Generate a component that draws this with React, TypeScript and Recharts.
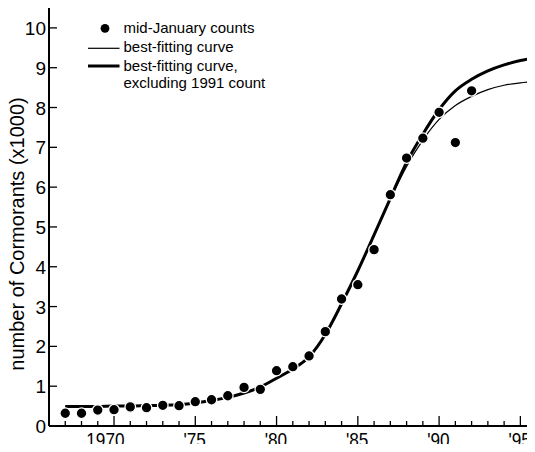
import React from 'react';
import { ComposedChart, Line, Scatter, XAxis, YAxis, ReferenceLine, Legend } from 'recharts';

const countYears = [1967, 1968, 1969, 1970, 1971, 1972, 1973, 1974, 1975, 1976, 1977, 1978, 1979, 1980, 1981, 1982, 1983, 1984, 1985, 1986, 1987, 1988, 1989, 1990, 1991, 1992];
const counts = [0.32, 0.32, 0.4, 0.41, 0.48, 0.46, 0.52, 0.51, 0.61, 0.66, 0.76, 0.97, 0.92, 1.39, 1.49, 1.76, 2.37, 3.19, 3.55, 4.43, 5.81, 6.73, 7.23, 7.88, 7.12, 8.42];

const curveYears = [1967, 1968, 1969, 1970, 1971, 1972, 1973, 1974, 1975, 1976, 1977, 1978, 1979, 1980, 1981, 1982, 1983, 1984, 1985, 1986, 1987, 1988, 1989, 1990, 1991, 1992, 1993, 1994, 1995, 1996];
const fitAll = [0.49, 0.49, 0.49, 0.5, 0.5, 0.51, 0.52, 0.54, 0.58, 0.64, 0.72, 0.83, 0.98, 1.2, 1.43, 1.74, 2.3, 3.07, 3.9, 4.8, 5.7, 6.52, 7.18, 7.7, 8.05, 8.28, 8.45, 8.56, 8.62, 8.66];
const fitExcl1991 = [0.49, 0.49, 0.49, 0.5, 0.5, 0.51, 0.52, 0.54, 0.58, 0.64, 0.72, 0.83, 0.98, 1.2, 1.43, 1.74, 2.3, 3.07, 3.9, 4.8, 5.72, 6.62, 7.33, 7.95, 8.42, 8.71, 8.92, 9.07, 9.18, 9.25];

const yTicks = [0, 1, 2, 3, 4, 5, 6, 7, 8, 9, 10];
const xMinorTicks = [1967, 1968, 1969, 1970, 1971, 1972, 1973, 1974, 1975, 1976, 1977, 1978, 1979, 1980, 1981, 1982, 1983, 1984, 1985, 1986, 1987, 1988, 1989, 1990, 1991, 1992, 1993, 1994, 1995];
const xMajorYears = [1970, 1975, 1980, 1985, 1990, 1995];
const xMajorLabels = ['1970', "'75", "'80", "'85", "'90", "'95"];

const legendLabels = ['mid-January counts', 'best-fitting curve', 'best-fitting curve,', 'excluding 1991 count'];
const yAxisTitle = 'number of Cormorants (x1000)';

const xDomain: [number, number] = [1966, 1995.9];
const yMax = 10.55;

const FONT = '"Liberation Sans", Arial, Helvetica, sans-serif';

const curveData = curveYears.map((year, i) => ({ year, fitAll: fitAll[i], fitExcl: fitExcl1991[i] }));
const pointData = countYears.map((year, i) => ({ year, count: counts[i] }));

const XTick = (props: any) => {
  const { x, y, payload } = props;
  const idx = xMajorYears.indexOf(payload.value);
  const major = idx >= 0;
  return (
    <g>
      <line x1={x} x2={x} y1={y} y2={y - (major ? 10 : 5)} stroke="#000" strokeWidth={1.3} />
      {major && (
        <g transform={`translate(${x + 10.5}, ${y + 20.5}) scale(0.86, 1)`}>
          <text x={0} y={0} textAnchor="end" fontSize={20} fontFamily={FONT} fill="#000">
            {xMajorLabels[idx]}
          </text>
        </g>
      )}
    </g>
  );
};

const YTick = (props: any) => {
  const { x, y, payload } = props;
  return (
    <g>
      <line x1={x} x2={x + 8} y1={y} y2={y} stroke="#000" strokeWidth={1.3} />
      <text x={x - 3} y={y + 7} textAnchor="end" fontSize={19} fontFamily={FONT} fill="#000">
        {payload.value}
      </text>
    </g>
  );
};

const YTitle = (props: any) => {
  const vb = props.viewBox || { x: 0, y: 6, width: 49, height: 420 };
  const cx = vb.x + 24;
  const cy = vb.y + vb.height / 2 + 18;
  return (
    <text x={cx} y={cy} transform={`rotate(-90, ${cx}, ${cy})`} textAnchor="middle" fontSize={20} fontFamily={FONT} fill="#000">
      {yAxisTitle}
    </text>
  );
};

const LegendBox = () => (
  <svg width={260} height={95} style={{ display: 'block', overflow: 'visible' }}>
    <circle cx={105} cy={28.3} r={4.4} fill="#000" />
    <text x={123.5} y={33.3} fontSize={15} fontFamily={FONT} fill="#000">{legendLabels[0]}</text>
    <line x1={88} x2={119.5} y1={48.3} y2={48.3} stroke="#000" strokeWidth={1.2} />
    <text x={123.5} y={52.3} fontSize={15} fontFamily={FONT} fill="#000">{legendLabels[1]}</text>
    <line x1={88} x2={119.5} y1={66} y2={66} stroke="#000" strokeWidth={3} />
    <text x={123.5} y={71} fontSize={15} fontFamily={FONT} fill="#000">{legendLabels[2]}</text>
    <text x={123.5} y={87.8} fontSize={15} fontFamily={FONT} fill="#000">{legendLabels[3]}</text>
  </svg>
);

const Dot = (props: any) => {
  const { cx, cy } = props;
  if (cx == null || cy == null) return null;
  return <circle cx={cx} cy={cy} r={5.3} fill="#000" stroke="#fff" strokeWidth={1.3} />;
};

export default function App() {
  return (
    <div style={{ margin: -8, width: 535, height: 452, position: 'relative', background: '#fff', overflow: 'hidden' }}>
      <ComposedChart width={535} height={452} data={curveData} margin={{ top: 6, right: 0, left: 0, bottom: 0 }}>
        <XAxis
          type="number"
          dataKey="year"
          domain={xDomain}
          allowDataOverflow
          ticks={xMinorTicks}
          interval={0}
          tickSize={0}
          tickMargin={0}
          tickLine={false}
          tick={<XTick />}
          axisLine={{ stroke: '#000', strokeWidth: 2 }}
          height={26}
        />
        <YAxis
          type="number"
          domain={[0, yMax]}
          allowDataOverflow
          ticks={yTicks}
          interval={0}
          tickSize={0}
          tickMargin={0}
          tickLine={false}
          tick={<YTick />}
          axisLine={{ stroke: '#000', strokeWidth: 2 }}
          width={49}
          label={<YTitle />}
        />
        <ReferenceLine y={yMax} stroke="#000" strokeWidth={2} />
        <Legend
          layout="horizontal"
          verticalAlign="middle"
          align="center"
          wrapperStyle={{ left: 0, top: 0, width: 260, height: 95 }}
          content={() => <LegendBox />}
        />
        <Line
          dataKey="fitAll"
          name={legendLabels[1]}
          type="monotone"
          stroke="#000"
          strokeWidth={1.2}
          dot={false}
          activeDot={false}
          isAnimationActive={false}
        />
        <Line
          dataKey="fitExcl"
          name={legendLabels[2]}
          type="monotone"
          stroke="#000"
          strokeWidth={3}
          dot={false}
          activeDot={false}
          isAnimationActive={false}
        />
        <Scatter data={pointData} dataKey="count" name={legendLabels[0]} fill="#000" shape={<Dot />} isAnimationActive={false} />
      </ComposedChart>
    </div>
  );
}
